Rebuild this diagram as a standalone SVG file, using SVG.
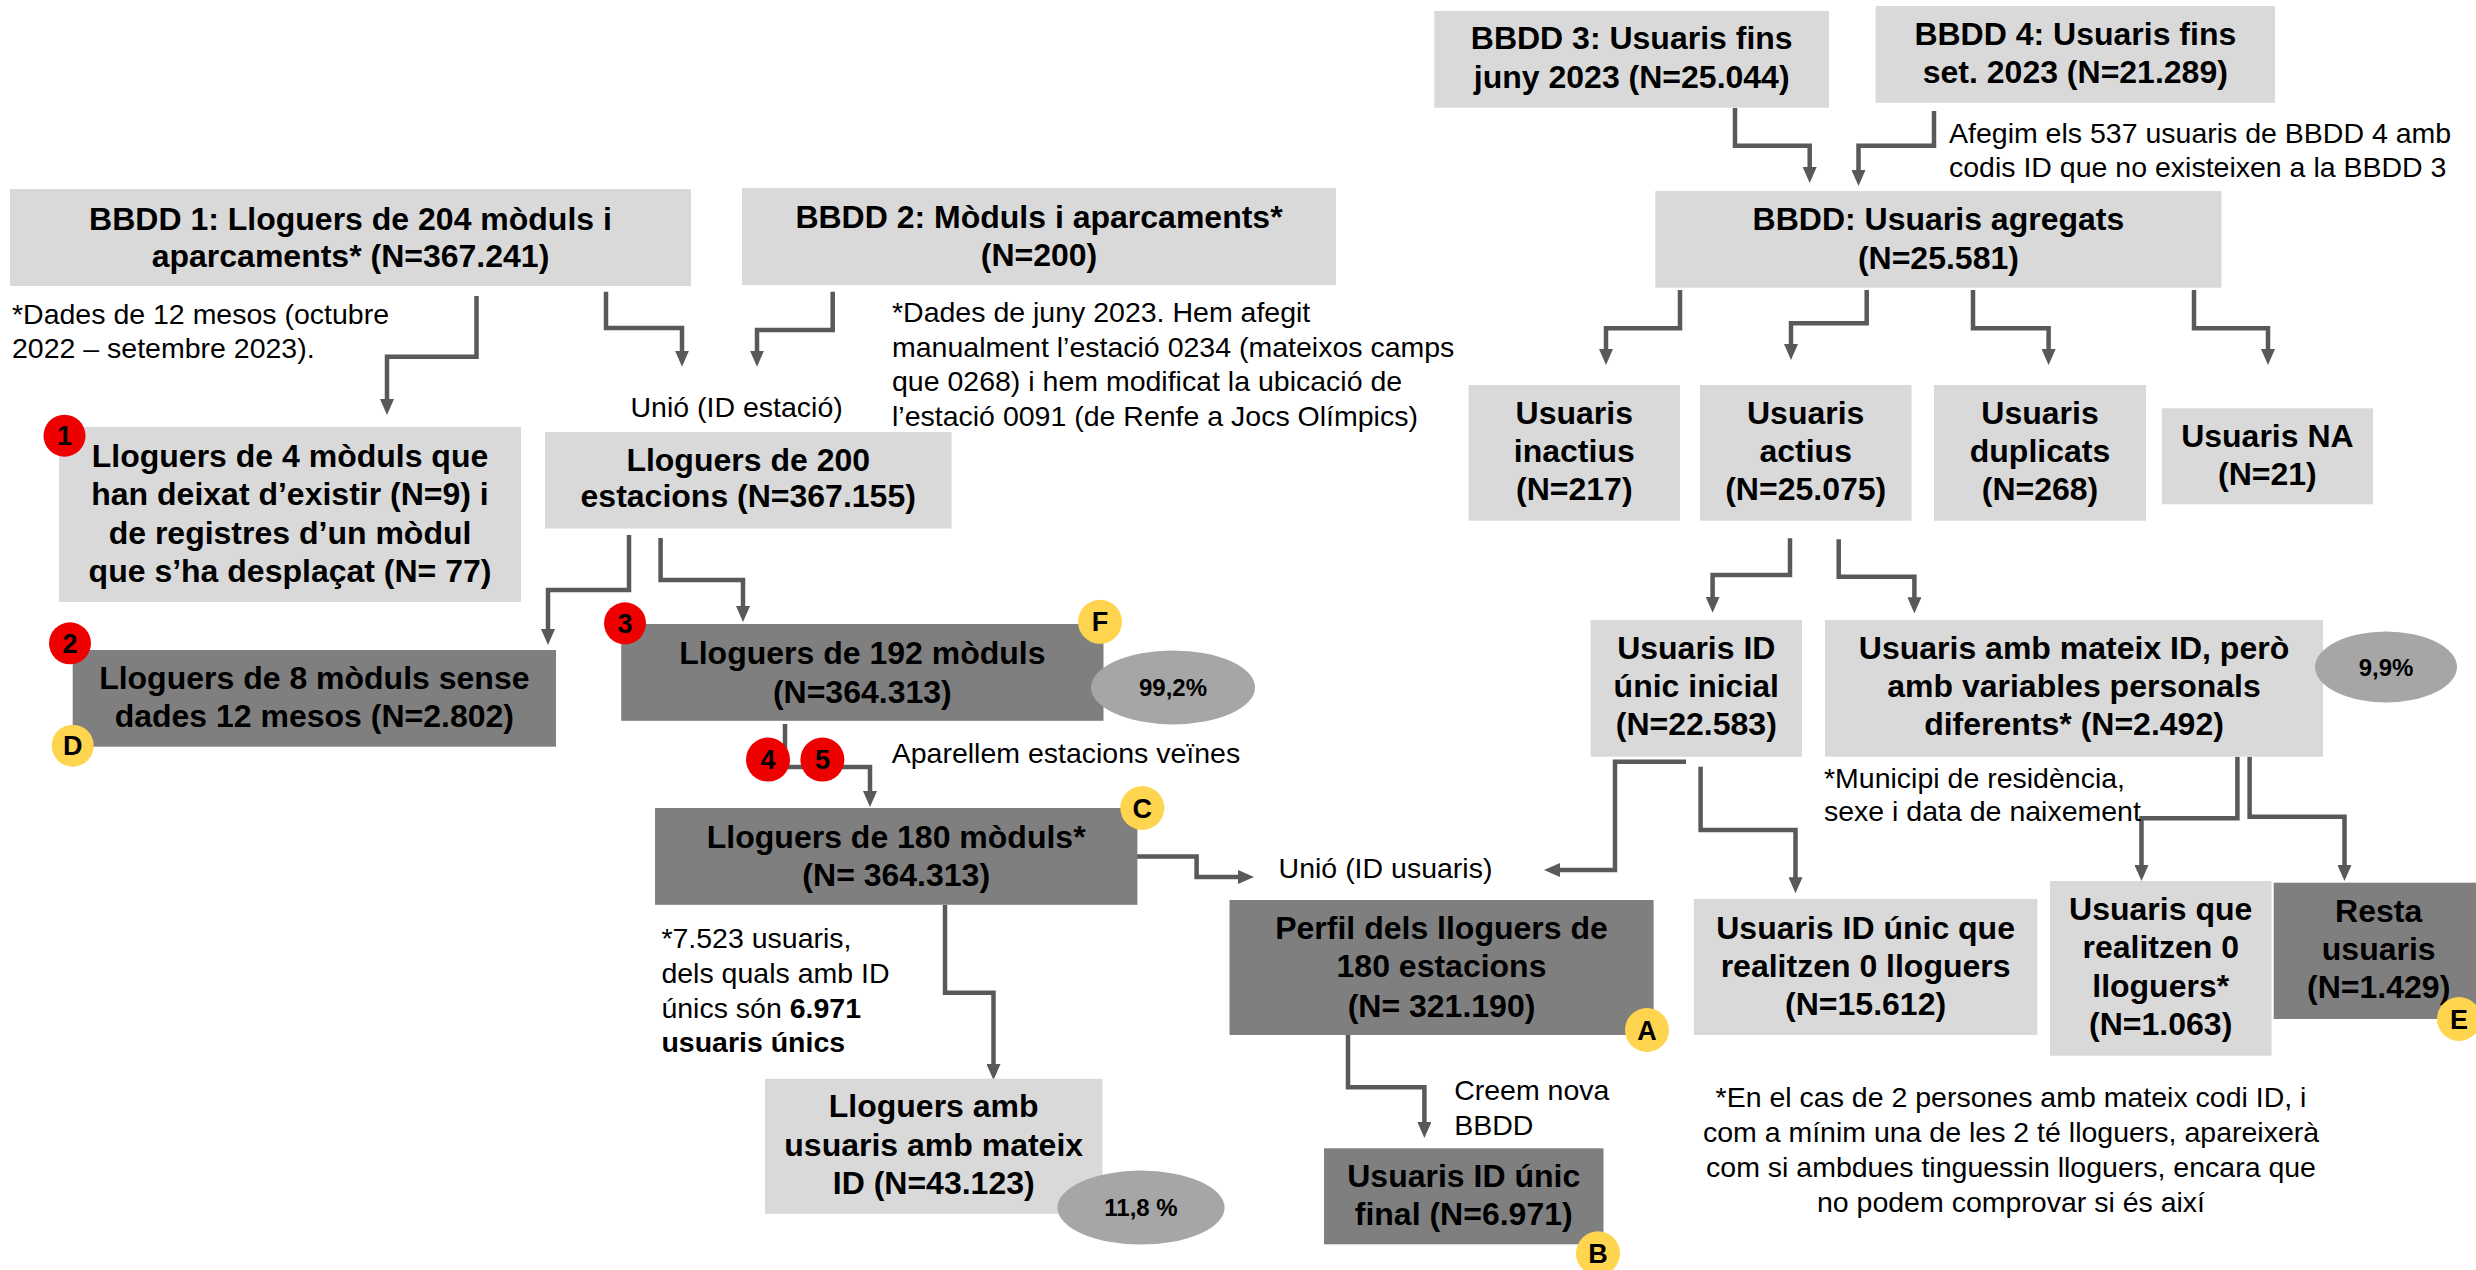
<svg xmlns="http://www.w3.org/2000/svg" width="2476" height="1270" viewBox="0 0 2476 1270">
<style>
text{font-family:"Liberation Sans",Arial,sans-serif;fill:#000}
.lb{fill:#d9d9d9}
.db{fill:#7f7f7f}
.t{font-size:32px;font-weight:bold;text-anchor:middle}
.n{font-size:28.5px}
.c{fill:none;stroke:#595959;stroke-width:4.5;marker-end:url(#ah)}
.br{fill:#ee0000}
.by{fill:#ffd44f}
.bt{font-size:27px;font-weight:bold;text-anchor:middle}
.el{fill:#a6a6a6}
.pt{font-size:24px;font-weight:bold;text-anchor:middle}
</style>
<defs>
<marker id="ah" viewBox="0 0 16 14" refX="6" refY="7" markerWidth="16" markerHeight="14" markerUnits="userSpaceOnUse" orient="auto">
<path d="M0,0 L16,7 L0,14 z" fill="#595959"/>
</marker>
</defs>
<rect width="2476" height="1270" fill="#fff"/>

<g id="connectors">
<path class="c" d="M476.5,296 V356.7 H387 V405"/>
<path class="c" d="M606,291.7 V328 H682 V356.7"/>
<path class="c" d="M832.7,291.7 V330 H757 V356.7"/>
<path class="c" d="M629,535 V590 H548 V635"/>
<path class="c" d="M660.6,538 V580 H743 V612"/>
<path class="c" d="M785,724 V767 H870 V797"/>
<path class="c" d="M1137,856.4 H1196.6 V877 H1244"/>
<path class="c" d="M945,905 V992.8 H993.5 V1070"/>
<path class="c" d="M1348,1035 V1087.3 H1424.4 V1128"/>
<path class="c" d="M1735,108 V145.7 H1809.7 V173"/>
<path class="c" d="M1934,111 V145.7 H1858.5 V176"/>
<path class="c" d="M1680,290 V328.3 H1606 V355"/>
<path class="c" d="M1866.7,290 V323.3 H1791 V350"/>
<path class="c" d="M1973,290 V328.3 H2048.6 V355"/>
<path class="c" d="M2194,290 V328.3 H2268 V355"/>
<path class="c" d="M1790,538.3 V575 H1712.6 V602.7"/>
<path class="c" d="M1838.7,539.3 V576.7 H1914.4 V603.3"/>
<path class="c" d="M1686,761.7 H1615 V870 H1554"/>
<path class="c" d="M1700.6,766.7 V830 H1795.5 V883.3"/>
<path class="c" d="M2237.4,756.7 V818.3 H2141.5 V871"/>
<path class="c" d="M2249.6,756.7 V816.7 H2344.5 V871"/>
</g>

<g id="bbdd1">
<rect class="lb" x="10" y="189" width="681" height="97"/>
<text class="t" x="350.5" y="229.5">BBDD 1: Lloguers de 204 mòduls i</text>
<text class="t" x="350.5" y="267">aparcaments* (N=367.241)</text>
</g>
<g id="note1">
<text class="n" x="12" y="324">*Dades de 12 mesos (octubre</text>
<text class="n" x="12" y="358">2022 – setembre 2023).</text>
</g>
<g id="bbdd2">
<rect class="lb" x="742" y="188" width="594" height="97"/>
<text class="t" x="1039" y="227.5">BBDD 2: Mòduls i aparcaments*</text>
<text class="t" x="1039" y="265.5">(N=200)</text>
</g>
<g id="note2">
<text class="n" x="892" y="322">*Dades de juny 2023. Hem afegit</text>
<text class="n" x="892" y="356.5">manualment l’estació 0234 (mateixos camps</text>
<text class="n" x="892" y="391">que 0268) i hem modificat la ubicació de</text>
<text class="n" x="892" y="425.5">l’estació 0091 (de Renfe a Jocs Olímpics)</text>
</g>
<g id="unio1">
<text class="n" x="630.5" y="417">Unió (ID estació)</text>
</g>
<g id="box1">
<rect class="lb" x="59" y="427" width="462" height="175"/>
<text class="t" x="290" y="467">Lloguers de 4 mòduls que</text>
<text class="t" x="290" y="505.3">han deixat d’existir (N=9) i</text>
<text class="t" x="290" y="543.6">de registres d’un mòdul</text>
<text class="t" x="290" y="582">que s’ha desplaçat (N= 77)</text>
<circle class="br" cx="64.5" cy="435.7" r="21"/>
<text class="bt" x="64.5" y="445.3">1</text>
</g>
<g id="box200">
<rect class="lb" x="545" y="432" width="406.5" height="96.5"/>
<text class="t" x="748.2" y="470.5">Lloguers de 200</text>
<text class="t" x="748.2" y="507">estacions (N=367.155)</text>
</g>
<g id="box2">
<rect class="db" x="72.7" y="650" width="483.3" height="96.7"/>
<text class="t" x="314.3" y="688.5">Lloguers de 8 mòduls sense</text>
<text class="t" x="314.3" y="727">dades 12 mesos (N=2.802)</text>
<circle class="br" cx="70" cy="643.3" r="21"/>
<text class="bt" x="70" y="652.9">2</text>
<circle class="by" cx="72.7" cy="745.7" r="21"/>
<text class="bt" x="72.7" y="755.3">D</text>
</g>
<g id="box3">
<rect class="db" x="621.2" y="624" width="482.3" height="96.8"/>
<text class="t" x="862.3" y="664">Lloguers de 192 mòduls</text>
<text class="t" x="862.3" y="702.5">(N=364.313)</text>
<circle class="br" cx="625" cy="623.3" r="21"/>
<text class="bt" x="625" y="632.9">3</text>
<circle class="by" cx="1100" cy="621.8" r="22"/>
<text class="bt" x="1100" y="631.4">F</text>
</g>
<g id="pct992">
<ellipse class="el" cx="1173" cy="687.4" rx="82" ry="37"/>
<text class="pt" x="1173" y="695.5">99,2%</text>
</g>
<g id="step45">
<circle class="br" cx="768" cy="759.6" r="22"/>
<text class="bt" x="768" y="769.2">4</text>
<circle class="br" cx="822.4" cy="759.6" r="22"/>
<text class="bt" x="822.4" y="769.2">5</text>
<text class="n" x="891.7" y="763">Aparellem estacions veïnes</text>
</g>
<g id="boxC">
<rect class="db" x="655" y="808" width="482.4" height="96.8"/>
<text class="t" x="896.2" y="848">Lloguers de 180 mòduls*</text>
<text class="t" x="896.2" y="886.3">(N= 364.313)</text>
<circle class="by" cx="1142.3" cy="808" r="22"/>
<text class="bt" x="1142.3" y="817.6">C</text>
</g>
<g id="note3">
<text class="n" x="661.4" y="947.5">*7.523 usuaris,</text>
<text class="n" x="661.4" y="982.7">dels quals amb ID</text>
<text class="n" x="661.4" y="1018">únics són <tspan font-weight="bold">6.971</tspan></text>
<text class="n" x="661.4" y="1052" font-weight="bold">usuaris únics</text>
</g>
<g id="boxMateixLloguers">
<rect class="lb" x="765" y="1078.7" width="337.5" height="135.1"/>
<text class="t" x="933.7" y="1117.3">Lloguers amb</text>
<text class="t" x="933.7" y="1155.6">usuaris amb mateix</text>
<text class="t" x="933.7" y="1194">ID (N=43.123)</text>
</g>
<g id="pct118">
<ellipse class="el" cx="1141" cy="1207.6" rx="83.6" ry="37"/>
<text class="pt" x="1141" y="1216">11,8 %</text>
</g>
<g id="unio2">
<text class="n" x="1278.6" y="878.3">Unió (ID usuaris)</text>
</g>
<g id="boxA">
<rect class="db" x="1229.5" y="900" width="424.1" height="135"/>
<text class="t" x="1441.5" y="939">Perfil dels lloguers de</text>
<text class="t" x="1441.5" y="977.3">180 estacions</text>
<text class="t" x="1441.5" y="1016.7">(N= 321.190)</text>
<circle class="by" cx="1647" cy="1030" r="22"/>
<text class="bt" x="1647" y="1039.6">A</text>
</g>
<g id="creem">
<text class="n" x="1454.2" y="1100">Creem nova</text>
<text class="n" x="1454.2" y="1135">BBDD</text>
</g>
<g id="boxB">
<rect class="db" x="1324" y="1148.3" width="279.5" height="96"/>
<text class="t" x="1463.7" y="1187">Usuaris ID únic</text>
<text class="t" x="1463.7" y="1225.3">final (N=6.971)</text>
<circle class="by" cx="1598" cy="1253.3" r="22"/>
<text class="bt" x="1598" y="1262.9">B</text>
</g>
<g id="bbdd3">
<rect class="lb" x="1434.3" y="11" width="394.7" height="96.7"/>
<text class="t" x="1631.7" y="49">BBDD 3: Usuaris fins</text>
<text class="t" x="1631.7" y="87.5">juny 2023 (N=25.044)</text>
</g>
<g id="bbdd4">
<rect class="lb" x="1875.6" y="6" width="399.4" height="96.7"/>
<text class="t" x="2075.3" y="44.5">BBDD 4: Usuaris fins</text>
<text class="t" x="2075.3" y="83">set. 2023 (N=21.289)</text>
</g>
<g id="note4">
<text class="n" x="1949" y="142.7">Afegim els 537 usuaris de BBDD 4 amb</text>
<text class="n" x="1949" y="176.7">codis ID que no existeixen a la BBDD 3</text>
</g>
<g id="agregats">
<rect class="lb" x="1655.3" y="191" width="566.2" height="96.7"/>
<text class="t" x="1938.4" y="230">BBDD: Usuaris agregats</text>
<text class="t" x="1938.4" y="268.5">(N=25.581)</text>
</g>
<g id="inactius">
<rect class="lb" x="1468.6" y="385" width="211.4" height="135.7"/>
<text class="t" x="1574.3" y="423.5">Usuaris</text>
<text class="t" x="1574.3" y="462">inactius</text>
<text class="t" x="1574.3" y="500.3">(N=217)</text>
</g>
<g id="actius">
<rect class="lb" x="1700" y="385" width="211.5" height="135.7"/>
<text class="t" x="1805.7" y="423.5">Usuaris</text>
<text class="t" x="1805.7" y="462">actius</text>
<text class="t" x="1805.7" y="500.3">(N=25.075)</text>
</g>
<g id="duplicats">
<rect class="lb" x="1934" y="385" width="212" height="135.7"/>
<text class="t" x="2040" y="423.5">Usuaris</text>
<text class="t" x="2040" y="462">duplicats</text>
<text class="t" x="2040" y="500.3">(N=268)</text>
</g>
<g id="na">
<rect class="lb" x="2161.8" y="408.3" width="211.2" height="96"/>
<text class="t" x="2267.4" y="447">Usuaris NA</text>
<text class="t" x="2267.4" y="485.3">(N=21)</text>
</g>
<g id="unicInicial">
<rect class="lb" x="1590.6" y="620" width="211.4" height="136.7"/>
<text class="t" x="1696.3" y="658.5">Usuaris ID</text>
<text class="t" x="1696.3" y="697">únic inicial</text>
<text class="t" x="1696.3" y="735.3">(N=22.583)</text>
</g>
<g id="mateixID">
<rect class="lb" x="1825" y="620" width="498" height="136.7"/>
<text class="t" x="2074" y="658.5">Usuaris amb mateix ID, però</text>
<text class="t" x="2074" y="697">amb variables personals</text>
<text class="t" x="2074" y="735.3">diferents* (N=2.492)</text>
</g>
<g id="pct99">
<ellipse class="el" cx="2386" cy="667" rx="71" ry="35.5"/>
<text class="pt" x="2386" y="675.5">9,9%</text>
</g>
<g id="note5">
<text class="n" x="1824" y="788">*Municipi de residència,</text>
<text class="n" x="1824" y="821">sexe i data de naixement</text>
</g>
<g id="unicZero">
<rect class="lb" x="1693.8" y="899" width="343.6" height="136"/>
<text class="t" x="1865.6" y="938.5">Usuaris ID únic que</text>
<text class="t" x="1865.6" y="977">realitzen 0 lloguers</text>
<text class="t" x="1865.6" y="1015.3">(N=15.612)</text>
</g>
<g id="zeroLloguers">
<rect class="lb" x="2050" y="881" width="221.5" height="174.7"/>
<text class="t" x="2160.7" y="920">Usuaris que</text>
<text class="t" x="2160.7" y="958.3">realitzen 0</text>
<text class="t" x="2160.7" y="996.6">lloguers*</text>
<text class="t" x="2160.7" y="1035">(N=1.063)</text>
</g>
<g id="resta">
<rect class="db" x="2273.7" y="882.7" width="202.3" height="136.3"/>
<text class="t" x="2378.7" y="921.7">Resta</text>
<text class="t" x="2378.7" y="960">usuaris</text>
<text class="t" x="2378.7" y="998.3">(N=1.429)</text>
<circle class="by" cx="2459" cy="1019" r="22"/>
<text class="bt" x="2459" y="1028.6">E</text>
</g>
<g id="note6">
<text class="n" x="2011" y="1106.7" text-anchor="middle">*En el cas de 2 persones amb mateix codi ID, i</text>
<text class="n" x="2011" y="1141.7" text-anchor="middle">com a mínim una de les 2 té lloguers, apareixerà</text>
<text class="n" x="2011" y="1176.7" text-anchor="middle">com si ambdues tinguessin lloguers, encara que</text>
<text class="n" x="2011" y="1211.7" text-anchor="middle">no podem comprovar si és així</text>
</g>
</svg>
